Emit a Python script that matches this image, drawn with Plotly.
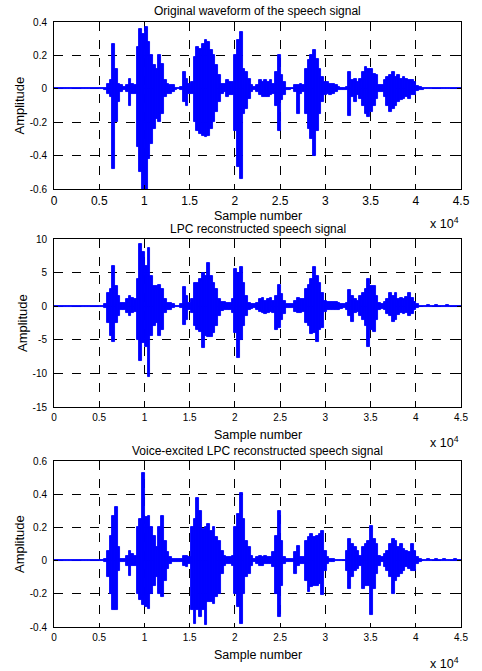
import numpy as np
import plotly.graph_objects as go

# sample positions (every 300 samples)
SAMPLES = list(range(0, 45001, 300))

X_TICKS = [0, 5000, 10000, 15000, 20000, 25000, 30000, 35000, 40000, 45000]
X_TICKTEXT = ["0", "0.5", "1", "1.5", "2", "2.5", "3", "3.5", "4", "4.5"]

TITLES = ["Original waveform of the speech signal",
          "LPC reconstructed speech signal",
          "Voice-excited LPC reconstructed speech signal"]

# ---------- panel 1 : original waveform (upper / lower envelope) ----------
P1_UP = [0.003, 0.003, 0.002, 0.003, 0.002, 0.003, 0.005, 0.002, 0.003, 0.002,
         0.003, 0.002, 0.004, 0.002, 0.003, 0.002, 0.005, 0.003, 0.004, 0.005,
         0.03, 0.05, 0.27, 0.12, 0.03, 0.02, 0.01, 0.02, 0.06, 0.03,
         0.02, 0.25, 0.36, 0.33, 0.37, 0.28, 0.2, 0.14, 0.12, 0.2,
         0.15, 0.05, 0.03, 0.025, 0.02, 0.005, 0.003, 0.01, 0.1, 0.06,
         0.03, 0.04, 0.19, 0.25, 0.24, 0.27, 0.29, 0.28, 0.23, 0.2,
         0.14, 0.08, 0.03, 0.03, 0.05, 0.04, 0.04, 0.2, 0.29, 0.34,
         0.12, 0.1, 0.06, 0.02, 0.01, 0.02, 0.05, 0.04, 0.05, 0.04,
         0.05, 0.03, 0.1, 0.2, 0.08, 0.04, 0.005, 0.005, 0.003, 0.02,
         0.02, 0.03, 0.02, 0.12, 0.17, 0.2, 0.23, 0.18, 0.12, 0.07,
         0.04, 0.04, 0.03, 0.03, 0.02, 0.01, 0.005, 0.005, 0.01, 0.1,
         0.05, 0.06, 0.04, 0.06, 0.1, 0.13, 0.12, 0.12, 0.09, 0.08,
         0.02, 0.02, 0.05, 0.07, 0.08, 0.1, 0.07, 0.08, 0.06, 0.07,
         0.06, 0.05, 0.05, 0.04, 0.015, 0.01, 0.005, 0.003, 0.004, 0.003,
         0.002, 0.003, 0.004, 0.002, 0.003, 0.002, 0.003, 0.002, 0.003, 0.002,
         0.002]
P1_LO = [-0.003, -0.002, -0.003, -0.002, -0.003, -0.002, -0.004, -0.002, -0.003, -0.002,
         -0.002, -0.003, -0.003, -0.002, -0.002, -0.003, -0.004, -0.002, -0.003, -0.005,
         -0.03, -0.05, -0.48, -0.2, -0.08, -0.02, -0.01, -0.02, -0.1, -0.03,
         -0.03, -0.35, -0.5, -0.61, -0.61, -0.42, -0.33, -0.24, -0.18, -0.2,
         -0.15, -0.05, -0.03, -0.03, -0.02, -0.005, -0.003, -0.01, -0.08, -0.1,
         -0.03, -0.03, -0.2, -0.25, -0.27, -0.28, -0.29, -0.28, -0.24, -0.2,
         -0.14, -0.08, -0.03, -0.02, -0.05, -0.04, -0.04, -0.25, -0.47, -0.54,
         -0.15, -0.12, -0.06, -0.02, -0.01, -0.02, -0.04, -0.05, -0.05, -0.05,
         -0.04, -0.03, -0.1, -0.25, -0.07, -0.04, -0.005, -0.005, -0.003, -0.02,
         -0.15, -0.03, -0.02, -0.15, -0.24, -0.3, -0.4, -0.25, -0.15, -0.08,
         -0.04, -0.03, -0.04, -0.03, -0.02, -0.01, -0.005, -0.005, -0.01, -0.16,
         -0.05, -0.08, -0.04, -0.06, -0.1, -0.15, -0.17, -0.14, -0.1, -0.06,
         -0.02, -0.02, -0.05, -0.1, -0.14, -0.12, -0.1, -0.08, -0.07, -0.06,
         -0.05, -0.06, -0.04, -0.04, -0.015, -0.01, -0.005, -0.003, -0.002, -0.003,
         -0.003, -0.002, -0.003, -0.002, -0.003, -0.002, -0.002, -0.003, -0.002, -0.003,
         -0.002]

# ---------- panel 2 : LPC reconstructed ----------
P2_UP = [0.08, 0.08, 0.09, 0.08, 0.09, 0.08, 0.08, 0.09, 0.08, 0.09,
         0.08, 0.09, 0.08, 0.08, 0.09, 0.08, 0.09, 0.08, 0.1, 0.3,
         2, 2.5, 6, 3, 1.5, 0.5, 0.5, 1, 1.5, 1.2,
         1, 4, 9.3, 8, 6, 8.7, 4.5, 3, 3, 3.2,
         2.5, 1, 0.5, 0.5, 0.3, 0.1, 0.08, 0.3, 2.8, 1.5,
         0.5, 1, 3.5, 3.5, 4, 5, 4.5, 6.5, 4.5, 3.5,
         2.5, 1, 0.7, 0.6, 0.5, 0.5, 1, 5.5, 5, 5.8,
         3.5, 1.5, 0.5, 0.4, 0.3, 0.5, 1, 1.2, 0.8, 1,
         1.2, 0.8, 1.5, 3.2, 1.8, 0.8, 0.3, 0.3, 0.3, 0.8,
         1.2, 1, 1, 2.5, 3.2, 4, 5.8, 4.5, 3.5, 2,
         0.8, 0.6, 0.6, 0.6, 0.6, 0.5, 0.4, 0.3, 0.5, 2.4,
         1.5, 1, 0.8, 1.5, 2, 2.5, 4.1, 3, 3, 1.5,
         0.5, 0.4, 0.6, 1, 2, 1.5, 2, 1, 1.2, 1,
         1.4, 1.9, 1.2, 0.6, 0.3, 0.1, 0.08, 0.08, 0.15, 0.08,
         0.08, 0.12, 0.08, 0.09, 0.08, 0.14, 0.08, 0.09, 0.08, 0.09,
         0.08]
P2_LO = [-0.08, -0.08, -0.09, -0.08, -0.08, -0.09, -0.08, -0.08, -0.09, -0.08,
         -0.09, -0.08, -0.08, -0.09, -0.08, -0.08, -0.09, -0.08, -0.1, -0.3,
         -2.5, -4.5, -5.3, -2.5, -1.5, -0.5, -0.5, -1, -1.5, -1,
         -0.8, -5, -8.2, -5.5, -6, -10.5, -4.5, -3, -2.5, -4.5,
         -3.5, -1, -0.5, -0.5, -0.3, -0.1, -0.08, -0.3, -2.8, -2,
         -0.5, -1, -3, -3.5, -3.8, -6.2, -4.5, -4.6, -4.6, -4,
         -3, -1.5, -0.7, -0.6, -0.5, -0.5, -1, -4, -7.7, -5,
         -3, -1.5, -0.5, -0.4, -0.3, -0.5, -0.8, -1, -1.2, -1,
         -0.8, -1, -3.5, -3.3, -2, -1.2, -0.3, -0.3, -0.3, -0.8,
         -1, -1, -0.8, -2.5, -3, -4.2, -4, -5.3, -3.5, -3.2,
         -0.8, -0.6, -0.6, -0.6, -0.6, -0.5, -0.4, -0.3, -0.5, -1.5,
         -2.4, -1, -0.8, -1.5, -2, -3, -6, -3.5, -3.8, -2,
         -0.5, -0.4, -0.6, -1.2, -1.5, -2.4, -2, -1.3, -1, -1.2,
         -1, -1.5, -1.2, -0.6, -0.3, -0.1, -0.08, -0.08, -0.08, -0.09,
         -0.08, -0.09, -0.08, -0.09, -0.08, -0.09, -0.08, -0.09, -0.08, -0.09,
         -0.08]

# ---------- panel 3 : voice-excited LPC reconstructed ----------
P3_UP = [0.003, 0.004, 0.002, 0.003, 0.005, 0.002, 0.004, 0.002, 0.005, 0.003,
         0.002, 0.004, 0.003, 0.002, 0.005, 0.002, 0.003, 0.002, 0.004, 0.01,
         0.06, 0.15, 0.27, 0.32, 0.08, 0.01, 0.01, 0.03, 0.06, 0.04,
         0.03, 0.2, 0.25, 0.53, 0.26, 0.27, 0.2, 0.15, 0.08, 0.2,
         0.27, 0.12, 0.05, 0.02, 0.01, 0.01, 0.01, 0.01, 0.03, 0.03,
         0.02, 0.2, 0.25, 0.38, 0.3, 0.19, 0.2, 0.22, 0.18, 0.2,
         0.14, 0.12, 0.06, 0.03, 0.02, 0.02, 0.03, 0.2, 0.28, 0.41,
         0.25, 0.12, 0.08, 0.03, 0.01, 0.02, 0.03, 0.02, 0.03, 0.02,
         0.02, 0.05, 0.15, 0.3, 0.12, 0.02, 0.01, 0.01, 0.01, 0.05,
         0.09, 0.02, 0.02, 0.12, 0.14, 0.16, 0.14, 0.15, 0.16, 0.18,
         0.06, 0.02, 0.01, 0.01, 0.005, 0.005, 0.005, 0.005, 0.06, 0.13,
         0.1, 0.08, 0.06, 0.03, 0.08, 0.1, 0.12, 0.21, 0.13, 0.1,
         0.03, 0.02, 0.04, 0.06, 0.1, 0.13, 0.12, 0.08, 0.1, 0.07,
         0.06, 0.05, 0.1, 0.06, 0.02, 0.01, 0.005, 0.003, 0.01, 0.003,
         0.002, 0.01, 0.003, 0.002, 0.01, 0.002, 0.003, 0.002, 0.01, 0.002,
         0.002]
P3_LO = [-0.003, -0.003, -0.002, -0.004, -0.002, -0.003, -0.002, -0.004, -0.002, -0.003,
         -0.003, -0.002, -0.004, -0.002, -0.003, -0.002, -0.003, -0.002, -0.003, -0.01,
         -0.1, -0.2, -0.3, -0.3, -0.06, -0.01, -0.01, -0.03, -0.09, -0.03,
         -0.03, -0.2, -0.24, -0.27, -0.28, -0.29, -0.2, -0.15, -0.1, -0.2,
         -0.22, -0.12, -0.05, -0.02, -0.01, -0.01, -0.01, -0.01, -0.03, -0.04,
         -0.02, -0.3, -0.38, -0.3, -0.34, -0.3, -0.39, -0.25, -0.25, -0.26,
         -0.22, -0.2, -0.08, -0.03, -0.02, -0.02, -0.03, -0.2, -0.28, -0.38,
         -0.2, -0.1, -0.08, -0.03, -0.01, -0.02, -0.03, -0.03, -0.02, -0.02,
         -0.02, -0.04, -0.2, -0.34, -0.15, -0.02, -0.01, -0.01, -0.01, -0.08,
         -0.03, -0.02, -0.02, -0.12, -0.19, -0.16, -0.15, -0.15, -0.14, -0.21,
         -0.06, -0.02, -0.01, -0.01, -0.005, -0.005, -0.005, -0.005, -0.06, -0.17,
         -0.1, -0.06, -0.05, -0.03, -0.17, -0.15, -0.15, -0.33, -0.17, -0.08,
         -0.03, -0.01, -0.04, -0.06, -0.1, -0.2, -0.12, -0.1, -0.08, -0.06,
         -0.04, -0.05, -0.06, -0.06, -0.02, -0.01, -0.005, -0.003, -0.002, -0.003,
         -0.003, -0.002, -0.003, -0.002, -0.003, -0.002, -0.003, -0.002, -0.003, -0.002,
         -0.002]

Y_TICKS = [[-0.6, -0.4, -0.2, 0, 0.2, 0.4],
           [-15, -10, -5, 0, 5, 10],
           [-0.4, -0.2, 0, 0.2, 0.4, 0.6]]
Y_TICKTEXT = [["-0.6", "-0.4", "-0.2", "0", "0.2", "0.4"],
              ["-15", "-10", "-5", "0", "5", "10"],
              ["-0.4", "-0.2", "0", "0.2", "0.4", "0.6"]]
Y_RANGES = [[-0.6, 0.4], [-15, 10], [-0.4, 0.6]]

# ---------- layout geometry (pixels) ----------
W, H = 482, 671
X0, X1 = 54, 461
PANELS = [(22, 189), (239, 407), (461, 627)]  # top, bottom in px
TITLE_Y = [11, 229, 451]
XLAB_Y = [216, 435, 655]
EXP_Y = [223, 442, 663]
AMP_X = [19, 22, 19]
STEP = 300


def py(p):
    return (H - p) / H


fig = go.Figure()
series = [(P1_UP, P1_LO), (P2_UP, P2_LO), (P3_UP, P3_LO)]
for k, (up, lo) in enumerate(series):
    up = np.array(up)
    lo = np.array(lo)
    sfx = "" if k == 0 else str(k + 1)
    fig.add_trace(go.Bar(x=SAMPLES, y=up - lo, base=lo, width=STEP,
                         marker=dict(color="#0000FF",
                                     line=dict(color="#0000FF", width=0.9)),
                         xaxis="x" + sfx, yaxis="y" + sfx,
                         showlegend=False, hoverinfo="skip"))

font_family = "Liberation Sans, Arial, sans-serif"
layout = dict(width=W, height=H, margin=dict(l=0, r=0, t=0, b=0, autoexpand=False),
              paper_bgcolor="white", plot_bgcolor="white",
              font=dict(family=font_family, color="black"),
              showlegend=False, bargap=0)

annotations = []
for k, (top, bot) in enumerate(PANELS):
    sfx = "" if k == 0 else str(k + 1)
    xfont = 12 if k == 0 else 10
    layout["xaxis" + sfx] = dict(
        domain=[X0 / W, X1 / W], range=[0, 45000], anchor="y" + sfx,
        tickmode="array", tickvals=X_TICKS, ticktext=X_TICKTEXT,
        showline=True, linecolor="black", linewidth=1, mirror="ticks",
        ticks="inside", ticklen=4, tickcolor="black",
        showgrid=True, gridcolor="black", griddash="dash", gridwidth=1,
        zeroline=False, tickfont=dict(size=xfont, color="black"),
        ticklabelstandoff=1, automargin=False, layer="above traces")
    layout["yaxis" + sfx] = dict(
        domain=[py(bot), py(top)], range=Y_RANGES[k], anchor="x" + sfx,
        tickmode="array", tickvals=Y_TICKS[k], ticktext=Y_TICKTEXT[k],
        showline=True, linecolor="black", linewidth=1, mirror="ticks",
        ticks="inside", ticklen=4, tickcolor="black",
        showgrid=True, gridcolor="black", griddash="dash", gridwidth=1,
        zeroline=False, tickfont=dict(size=10, color="black"),
        ticklabelstandoff=4, automargin=False)
    annotations.append(dict(text=TITLES[k], x=(X0 + X1) / 2 / W, y=py(TITLE_Y[k]),
                            xref="paper", yref="paper", showarrow=False,
                            xanchor="center", yanchor="middle",
                            font=dict(size=12, color="black")))
    annotations.append(dict(text="Sample number", x=(X0 + X1) / 2 / W, y=py(XLAB_Y[k]),
                            xref="paper", yref="paper", showarrow=False,
                            xanchor="center", yanchor="middle",
                            font=dict(size=12.5, color="black")))
    annotations.append(dict(text="Amplitude", x=AMP_X[k] / W, y=py((top + bot) / 2),
                            xref="paper", yref="paper", showarrow=False,
                            xanchor="center", yanchor="middle", textangle=-90,
                            font=dict(size=13, color="black")))
    annotations.append(dict(text="x 10<sup>4</sup>", x=461 / W, y=py(EXP_Y[k]),
                            xref="paper", yref="paper", showarrow=False,
                            xanchor="right", yanchor="middle",
                            font=dict(size=12.5, color="black")))

layout["annotations"] = annotations
fig.update_layout(**layout)
fig.write_html("out.html", config={"displayModeBar": False},
               post_script="document.body.style.margin='0';document.body.style.padding='0';")
